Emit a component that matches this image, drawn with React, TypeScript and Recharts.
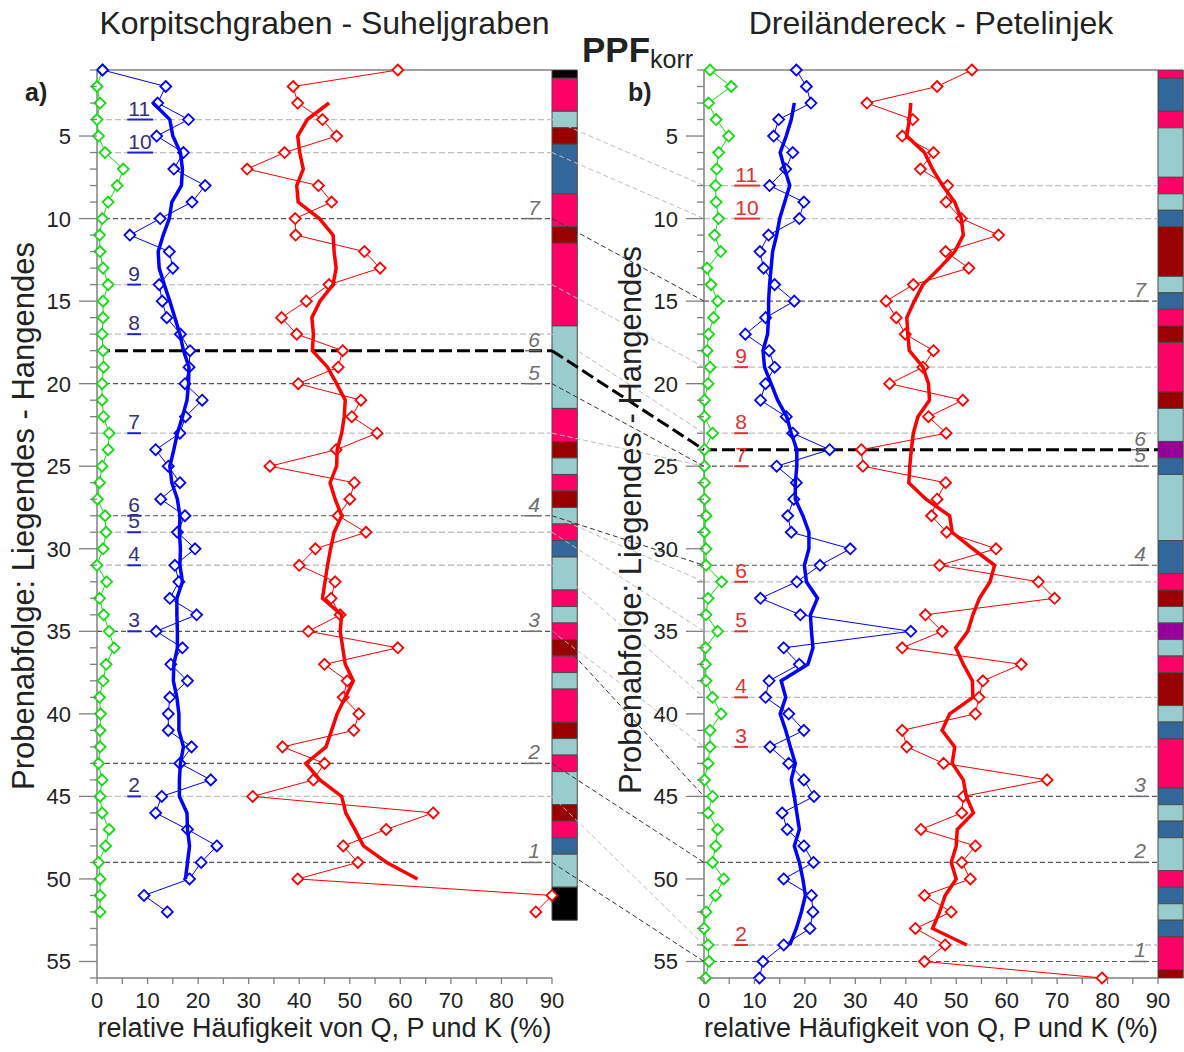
import React from 'react';
import {
  ScatterChart, Scatter, XAxis, YAxis, ReferenceLine, ReferenceArea, ReferenceDot,
} from 'recharts';

const FONT = '"Liberation Sans", Arial, Helvetica, sans-serif';

// plot frame shared by both columns
const H = 1052;
const TOP = 70;
const BOTTOM = 978;
const A_LEFT = 97;
const A_RIGHT = 552;
const B_OFFSET = 600;
const B_LEFT = 704;
const B_RIGHT = 1158;
const Y_AXIS_W = 60;
const X_AXIS_H = 40;
const N_MIN = 1;
const N_MAX = 56;
const MEAN_START = 3;

const X_TICKS = [0, 5, 10, 15, 20, 25, 30, 35, 40, 45, 50, 55, 60, 65, 70, 75, 80, 85, 90];
const Y_TICKS = Array.from({ length: N_MAX - N_MIN + 1 }, (_, i) => i + N_MIN);

const BLUE = '#0000ff';
const RED = '#ff0000';
const GREEN = '#11dd11';
const AXIS = '#808080';

// a) Korpitschgraben - Suheljgraben, samples 1..52
const A_Q = [1.1, 13.6, 12.0, 18.1, 11.8, 17.1, 15.2, 21.4, 18.8, 12.5, 6.5, 14.3, 15.0, 12.3, 12.9, 13.8, 16.5, 18.4, 18.2, 17.4,
  20.8, 17.5, 16.4, 11.6, 14.1, 16.4, 12.6, 17.4, 15.9, 19.4, 15.4, 16.2, 14.4, 19.7, 11.7, 16.9, 14.6, 17.9, 14.4, 14.1,
  14.1, 18.7, 16.4, 22.5, 12.8, 11.6, 17.9, 23.7, 20.6, 18.3, 9.3, 13.9];
const A_P = [59.5, 38.8, 39.7, 44.6, 47.4, 37.1, 29.7, 43.8, 46.4, 39.2, 39.3, 52.9, 56.0, 45.9, 41.4, 36.5, 39.5, 48.6, 47.7, 39.8,
  52.2, 50.4, 55.4, 47.3, 34.2, 50.9, 50.0, 47.7, 53.2, 43.2, 40.0, 47.1, 46.3, 48.1, 41.8, 59.5, 45.0, 49.5, 48.7, 51.8,
  50.8, 36.7, 45.0, 42.8, 30.8, 66.5, 57.2, 48.7, 51.6, 39.7, 90, 86.8];
const A_K = [1.05, 0, 0.6, 0, 0.3, 1.6, 5.2, 4.0, 2.2, 1.05, 0.5, 0.6, 1.2, 2.2, 1.2, 1.2, 1.0, 1.2, 1.3, 1.0,
  1.0, 1.3, 2.4, 2.2, 1.0, 0.5, 0.1, 1.6, 1.8, 1.2, 0, 1.9, 0.5, 1.3, 2.4, 3.4, 1.8, 1.2, 0.5, 0.7,
  0.6, 0.6, 0.3, 1.0, 0.6, 1.0, 2.4, 1.7, 0.3, 0.6, 0.6, 0.6];
// gleitende Mittel, ab Probe 3
const A_Q_MEAN = [11.1, 14.4, 15.0, 16.5, 16.9, 16.7, 14.8, 14.3, 13.1, 12.1, 12.3, 13.3, 14.4, 15.4, 16.4, 17.1, 18.2, 18.1,
  17.8, 16.9, 15.9, 15.2, 14.4, 14.8, 15.9, 16.4, 16.3, 16.5, 16.4, 16.9, 15.8, 15.8, 15.9, 15.9, 15.2, 15.1, 15.8, 16.2,
  16.2, 17.1, 16.5, 16.3, 16.3, 17.8, 17.9, 18.3, 17.9, 17.5];
const A_P_MEAN = [45.9, 41.6, 39.7, 40.1, 40.8, 39.5, 39.8, 44.0, 46.7, 46.9, 47.3, 46.7, 44.1, 42.5, 42.8, 42.6, 45.6, 47.4,
  49.1, 48.9, 48.4, 47.5, 47.4, 46.1, 47.1, 48.4, 46.9, 46.2, 45.6, 45.1, 44.6, 48.4, 48.1, 48.6, 49.1, 50.7, 49.1, 47.5,
  46.4, 45.3, 41.3, 44.1, 48.4, 49.2, 51.0, 52.7, 57.3, 63.4];
const A_LITHO = 'kpptdbbbppdppppptttttppdtpdtpbttptpdptppdtpttdpbttkk';
const A_LEFT_SAMPLES = [4, 6, 14, 17, 23, 28, 29, 31, 35, 45];
const A_RIGHT_SAMPLES = [10, 18, 20, 28, 35, 43, 49];

// b) Dreiländereck - Petelinjek, samples 1..56
const B_Q = [18.3, 20.3, 21.2, 14.8, 13.8, 17.6, 16.2, 13.0, 19.8, 18.9, 12.8, 11.1, 11.8, 14.0, 17.9, 12.2, 8.2, 12.9, 14.0, 12.2,
  11.2, 16.3, 17.6, 24.9, 14.4, 18.3, 17.8, 16.6, 17.3, 29.0, 23.0, 18.4, 11.2, 19.1, 41.0, 15.8, 18.9, 12.9, 12.2, 16.8,
  19.8, 13.1, 16.8, 19.8, 21.8, 15.5, 16.5, 19.8, 21.7, 15.8, 21.3, 21.6, 21.0, 15.8, 11.7, 11.0];
const B_P = [53.1, 46.2, 32.3, 41.4, 39.3, 45.5, 42.9, 48.3, 48.0, 51.0, 58.4, 47.9, 52.5, 41.5, 36.1, 38.1, 39.9, 45.5, 43.4, 36.8,
  51.3, 44.5, 48.0, 31.2, 31.5, 47.9, 46.2, 45.1, 48.1, 57.9, 46.7, 66.3, 69.5, 43.9, 47.2, 39.3, 62.9, 55.3, 54.5, 53.8,
  39.3, 40.2, 47.5, 68.0, 51.4, 51.1, 43.0, 53.8, 51.1, 52.8, 43.7, 49.0, 41.9, 47.8, 43.7, 78.9];
const B_K = [1.2, 5.4, 0.9, 2.4, 4.9, 2.9, 2.5, 2.3, 2.4, 2.9, 2.1, 3.3, 0.6, 1.4, 2.7, 1.9, 0.9, 0.6, 1.2, 0.8,
  0.1, 0.1, 1.7, 0.1, 0.1, 0.1, 0.1, 0.4, 0.1, 0.4, 0.4, 3.5, 0.8, 0.4, 2.7, 0.3, 0.3, 0.4, 1.7, 3.4,
  1.2, 1.2, 0.8, 0.1, 1.7, 0.8, 2.7, 2.3, 1.7, 3.9, 2.3, 0.4, 0, 0.8, 1.0, 0.3];
const B_Q_MEAN = [17.9, 17.3, 16.3, 15.1, 16.0, 17.0, 16.0, 15.0, 14.4, 13.6, 13.3, 13.0, 12.8, 12.8, 12.6, 11.7, 12.0, 13.3,
  14.6, 16.4, 17.3, 18.4, 18.4, 18.1, 18.1, 19.6, 20.8, 20.8, 19.9, 20.3, 22.5, 21.1, 21.3, 21.6, 20.6, 15.3, 16.2, 15.1,
  16.2, 17.1, 18.1, 17.3, 17.9, 18.4, 18.9, 17.9, 18.9, 19.6, 20.1, 19.3, 18.3, 17.0];
const B_P_MEAN = [41.0, 40.7, 40.2, 43.7, 45.3, 47.3, 49.7, 51.0, 51.4, 49.7, 46.7, 43.4, 41.7, 40.2, 40.4, 40.7, 43.4, 44.5,
  44.7, 42.4, 41.5, 41.1, 40.8, 40.6, 44.0, 48.7, 49.2, 53.3, 57.6, 56.7, 54.6, 53.3, 52.3, 49.9, 51.4, 53.2, 53.3, 48.7,
  47.2, 49.7, 49.2, 51.4, 52.0, 53.4, 50.2, 50.0, 49.0, 50.0, 47.8, 46.7, 45.3, 52.1];
const B_LITHO = 'pbbptttptbdddtbpdpppdttvbttttbbpdtvtpddtbpppbtbttpbtbppd';
const B_LEFT_SAMPLES = [8, 10, 19, 23, 25, 32, 35, 39, 42, 54];
const B_RIGHT_SAMPLES = [15, 24, 25, 31, 45, 49, 55];

// Korrelationshorizonte (gleiche Reihenfolge in beiden Profilen)
const LEFT_LABELS = ['11', '10', '9', '8', '7', '6', '5', '4', '3', '2'];
const RIGHT_LABELS = ['7', '6', '5', '4', '3', '2', '1'];
const KEY_LABEL = '6';

const LITHO_COLORS: Record<string, string> = {
  k: '#000000',
  p: '#ff0066',
  t: '#99cccc',
  d: '#990000',
  b: '#336699',
  v: '#990099',
};

const LEFT_LABEL_X = 6.2;
const RIGHT_LABEL_X = 87.6;

function toRuns(codes: string) {
  const runs: { from: number; to: number; code: string }[] = [];
  codes.split('').forEach((c, i) => {
    const last = runs[runs.length - 1];
    if (last && last.code === c) last.to = i + 1;
    else runs.push({ from: i + 1, to: i + 1, code: c });
  });
  return runs;
}

const diamond = (color: string) => (props: any) => {
  const { cx, cy } = props;
  if (cx == null || cy == null) return <g />;
  const r = 5.5;
  return (
    <path
      d={`M${cx},${cy - r}L${cx + r},${cy}L${cx},${cy + r}L${cx - r},${cy}Z`}
      fill="#fff"
      stroke={color}
      strokeWidth={1.8}
    />
  );
};

const noDot = () => <g />;

const XTick = (props: any) => {
  const { x, y, payload } = props;
  const v = payload.value;
  return (
    <g>
      <line x1={x} x2={x} y1={y} y2={y + 6} stroke={AXIS} strokeWidth={1.3} />
      {v % 10 === 0 && (
        <text x={x} y={y + 30} textAnchor="middle" fontSize={22} fill="#222" fontFamily={FONT}>{v}</text>
      )}
    </g>
  );
};

const YTick = (props: any) => {
  const { x, y, payload } = props;
  const v = payload.value;
  const major = v % 5 === 0;
  return (
    <g>
      <line x1={x} x2={x - (major ? 18 : 7)} y1={y} y2={y} stroke={AXIS} strokeWidth={1.3} />
      {major && (
        <text x={x - 26} y={y + 8} textAnchor="end" fontSize={22} fill="#222" fontFamily={FONT}>{v}</text>
      )}
    </g>
  );
};

const leftLabel = (text: string, fill: string, line: string) => (props: any) => {
  const { cx, cy } = props;
  return (
    <g>
      <text x={cx} y={cy - 4} fontSize={21} fill={fill} fontFamily={FONT}>{text}</text>
      <line x1={cx - 1} x2={cx + text.length * 11.8 + 1} y1={cy} y2={cy} stroke={line} strokeWidth={2} />
    </g>
  );
};

const rightLabel = (text: string) => (props: any) => {
  const { cx, cy } = props;
  return (
    <g>
      <text x={cx} y={cy - 4} fontSize={21} fontStyle="italic" textAnchor="end" fill="#707070" fontFamily={FONT}>{text}</text>
      <line x1={cx - text.length * 11.8 - 3} x2={cx + 1} y1={cy} y2={cy} stroke="#707070" strokeWidth={1.5} />
    </g>
  );
};

type PanelProps = {
  q: number[]; p: number[]; k: number[];
  qMean: number[]; pMean: number[];
  litho: string;
  leftSamples: number[]; rightSamples: number[];
  labelFill: string; labelLine: string;
  width: number; left: number; right: number;
};

function Panel({ q, p, k, qMean, pMean, litho, leftSamples, rightSamples, labelFill, labelLine, width, left, right }: PanelProps) {
  const pts = (vals: number[], start: number) => vals.map((v, i) => ({ x: v, y: i + start }));
  const keySample = rightSamples[RIGHT_LABELS.indexOf(KEY_LABEL)];
  const lightLines = leftSamples.filter((n) => !rightSamples.includes(n));
  const darkLines = rightSamples.filter((n) => n !== keySample);
  return (
    <ScatterChart
      width={width}
      height={H}
      margin={{ top: TOP, right, bottom: H - BOTTOM - X_AXIS_H, left }}
      style={{ fontFamily: FONT }}
    >
      <XAxis
        type="number" dataKey="x" domain={[0, 90]} ticks={X_TICKS} interval={0}
        tickSize={0} tickMargin={0} tickLine={false} tick={<XTick />} height={X_AXIS_H}
        axisLine={{ stroke: AXIS, strokeWidth: 1.5 }}
      />
      <YAxis
        type="number" dataKey="y" domain={[N_MIN, N_MAX]} reversed ticks={Y_TICKS} interval={0}
        tickSize={0} tickMargin={0} tickLine={false} tick={<YTick />} width={Y_AXIS_W}
        axisLine={{ stroke: AXIS, strokeWidth: 1.5 }}
      />
      <ReferenceLine y={N_MIN} stroke={AXIS} strokeWidth={1.5} />

      {lightLines.map((n) => (
        <ReferenceLine key={`l${n}`} y={n} stroke="#c0c0c0" strokeWidth={1.3} strokeDasharray="6 3" />
      ))}
      {darkLines.map((n) => (
        <ReferenceLine key={`d${n}`} y={n} stroke="#555" strokeWidth={1.2} strokeDasharray="5 3" />
      ))}
      <ReferenceLine y={keySample} stroke="#000" strokeWidth={3} strokeDasharray="13 5" />

      {toRuns(litho).map((r) => (
        <ReferenceArea
          key={`s${r.from}`}
          x1={90} x2={95}
          y1={Math.max(r.from - 0.5, N_MIN)} y2={Math.min(r.to + 0.5, N_MAX)}
          fill={LITHO_COLORS[r.code]} fillOpacity={1}
          stroke="#4a4a4a" strokeWidth={1}
          ifOverflow="visible"
        />
      ))}

      <Scatter data={pts(k, 1)} fill={GREEN} line={{ stroke: GREEN, strokeWidth: 1 }} lineType="joint"
        shape={diamond(GREEN)} isAnimationActive={false} />
      <Scatter data={pts(q, 1)} fill={BLUE} line={{ stroke: BLUE, strokeWidth: 1 }} lineType="joint"
        shape={diamond(BLUE)} isAnimationActive={false} />
      <Scatter data={pts(p, 1)} fill={RED} line={{ stroke: RED, strokeWidth: 1 }} lineType="joint"
        shape={diamond(RED)} isAnimationActive={false} />
      <Scatter data={pts(qMean, MEAN_START)} fill={BLUE} line={{ stroke: BLUE, strokeWidth: 3.5 }} lineType="joint"
        shape={noDot} isAnimationActive={false} />
      <Scatter data={pts(pMean, MEAN_START)} fill={RED} line={{ stroke: RED, strokeWidth: 3.5 }} lineType="joint"
        shape={noDot} isAnimationActive={false} />

      {leftSamples.map((n, i) => (
        <ReferenceDot key={`ll${n}`} x={LEFT_LABEL_X} y={n} r={0} ifOverflow="visible"
          shape={leftLabel(LEFT_LABELS[i], labelFill, labelLine)} />
      ))}
      {rightSamples.map((n, i) => (
        <ReferenceDot key={`rl${n}`} x={RIGHT_LABEL_X} y={n} r={0} ifOverflow="visible"
          shape={rightLabel(RIGHT_LABELS[i])} />
      ))}
    </ScatterChart>
  );
}

// Probennummer -> Pixelhöhe, gleiche Skala wie die Y-Achsen
const yPix = (n: number) => TOP + ((n - N_MIN) / (N_MAX - N_MIN)) * (BOTTOM - TOP);

function Overlay() {
  const keyA = A_RIGHT_SAMPLES[RIGHT_LABELS.indexOf(KEY_LABEL)];
  const keyB = B_RIGHT_SAMPLES[RIGHT_LABELS.indexOf(KEY_LABEL)];
  const yTitle = 'Probenabfolge: Liegendes - Hangendes';
  const xTitle = 'relative Häufigkeit von Q, P und K (%)';
  const midA = (A_LEFT + A_RIGHT) / 2;
  const midB = (B_LEFT + B_RIGHT) / 2;
  const midY = (TOP + BOTTOM) / 2;
  return (
    <svg width={1184} height={H} style={{ position: 'absolute', left: 0, top: 0, pointerEvents: 'none' }} fontFamily={FONT}>
      {LEFT_LABELS.map((lab, i) => (
        <line key={`cl${lab}`} x1={A_RIGHT} y1={yPix(A_LEFT_SAMPLES[i])} x2={B_LEFT} y2={yPix(B_LEFT_SAMPLES[i])}
          stroke="#bdbdbd" strokeWidth={1} strokeDasharray="5 3" />
      ))}
      {RIGHT_LABELS.filter((lab) => lab !== KEY_LABEL).map((lab) => {
        const i = RIGHT_LABELS.indexOf(lab);
        return (
          <line key={`cr${lab}`} x1={A_RIGHT} y1={yPix(A_RIGHT_SAMPLES[i])} x2={B_LEFT} y2={yPix(B_RIGHT_SAMPLES[i])}
            stroke="#333" strokeWidth={1} strokeDasharray="5 3" />
        );
      })}
      <line x1={A_RIGHT} y1={yPix(keyA)} x2={B_LEFT} y2={yPix(keyB)} stroke="#000" strokeWidth={3} strokeDasharray="13 5" />

      <text x={midA} y={34} textAnchor="middle" fontSize={32} fill="#222">Korpitschgraben - Suheljgraben</text>
      <text x={midB} y={34} textAnchor="middle" fontSize={32} fill="#222">Dreiländereck - Petelinjek</text>
      <text x={582} y={62} fontSize={35} fontWeight="bold" fill="#222">
        PPF<tspan fontSize={25} fontWeight="normal" dy={6}>korr</tspan>
      </text>
      <text x={25} y={101} fontSize={25} fontWeight="bold" fill="#222">a)</text>
      <text x={628} y={101} fontSize={25} fontWeight="bold" fill="#222">b)</text>

      <text x={midA} y={1037} textAnchor="middle" fontSize={27} fill="#222">{xTitle}</text>
      <text x={midB} y={1037} textAnchor="middle" fontSize={27} fill="#222">{xTitle}</text>
      <text transform={`translate(34, ${midY - 8}) rotate(-90)`} textAnchor="middle" fontSize={31} fill="#222">{yTitle}</text>
      <text transform={`translate(641, ${midY - 4}) rotate(-90)`} textAnchor="middle" fontSize={31} fill="#222">{yTitle}</text>
    </svg>
  );
}

export default function App() {
  return (
    <div style={{ position: 'absolute', left: 0, top: 0, width: 1184, height: H, background: '#fff', overflow: 'hidden', fontFamily: FONT }}>
      <div style={{ position: 'absolute', left: 0, top: 0 }}>
        <Panel
          q={A_Q} p={A_P} k={A_K} qMean={A_Q_MEAN} pMean={A_P_MEAN} litho={A_LITHO}
          leftSamples={A_LEFT_SAMPLES} rightSamples={A_RIGHT_SAMPLES}
          labelFill="#35307a" labelLine="#2020d0"
          width={B_OFFSET} left={A_LEFT - Y_AXIS_W} right={B_OFFSET - A_RIGHT}
        />
      </div>
      <div style={{ position: 'absolute', left: B_OFFSET, top: 0 }}>
        <Panel
          q={B_Q} p={B_P} k={B_K} qMean={B_Q_MEAN} pMean={B_P_MEAN} litho={B_LITHO}
          leftSamples={B_LEFT_SAMPLES} rightSamples={B_RIGHT_SAMPLES}
          labelFill="#e03030" labelLine="#e03030"
          width={1184 - B_OFFSET} left={B_LEFT - B_OFFSET - Y_AXIS_W} right={1184 - B_RIGHT}
        />
      </div>
      <Overlay />
    </div>
  );
}
